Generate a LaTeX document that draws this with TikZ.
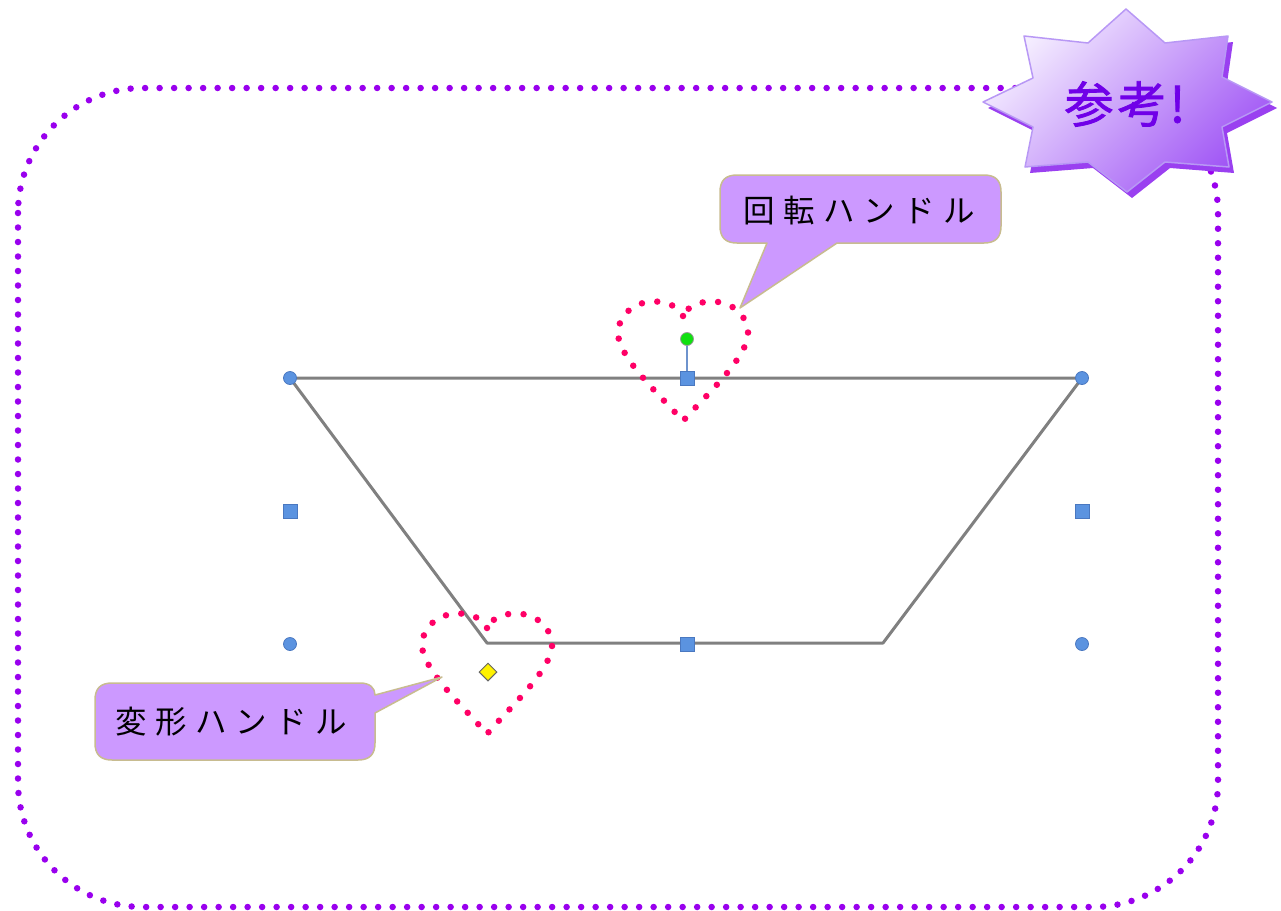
\documentclass[tikz,border=0pt]{standalone}
\usepackage{fontspec}
\newfontfamily\cjk{Noto Sans CJK JP}
\newfontfamily\cjkbold[FakeBold=1.6]{Noto Sans CJK JP}
\usetikzlibrary{shapes.geometric}
\definecolor{framepurple}{HTML}{9900EE}
\definecolor{heartpink}{HTML}{FF0066}
\definecolor{callfill}{HTML}{CC99FF}
\definecolor{calldraw}{HTML}{C8BC90}
\definecolor{handleblue}{HTML}{5B93E0}
\definecolor{handleblueb}{HTML}{4A78C0}
\definecolor{trapgray}{HTML}{808080}
\definecolor{starlight}{HTML}{F6F0FF}
\definecolor{stardark}{HTML}{A055F5}
\definecolor{starshadow}{HTML}{9A40F0}
\definecolor{starline}{HTML}{B898F5}
\definecolor{startext}{HTML}{7000E8}
\definecolor{greenhandle}{HTML}{10E010}
\newcommand{\gapx}{\hspace{8.5pt}}
\tikzset{
  framedots/.style={draw=framepurple, line width=6.5pt, line cap=round, dash pattern=on 0pt off 14.5pt},
  heartdots/.style={draw=heartpink, line width=6.5pt, line cap=round, dash pattern=on 0pt off 15.5pt},
  callout/.style={fill=callfill, draw=calldraw, line width=1.5pt, line join=round},
  calltext/.style={font=\cjk\fontsize{31.5}{34}\selectfont, text=black, inner sep=0pt},
  hcirc/.style={circle, fill=handleblue, draw=handleblueb, line width=0.8pt, minimum size=13pt, inner sep=0pt},
  hsq/.style={rectangle, fill=handleblue, draw=handleblueb, line width=0.8pt, minimum size=14pt, inner sep=0pt},
  hgreen/.style={circle, fill=greenhandle, draw=black!40, line width=0.8pt, minimum size=13pt, inner sep=0pt},
  hdiam/.style={diamond, fill=yellow, draw=black!60, line width=1pt, minimum size=18pt, inner sep=0pt},
  trap/.style={draw=trapgray, line width=3pt, line join=round},
}
\begin{document}
\begin{tikzpicture}[x=1pt,y=-1pt]
\useasboundingbox (0,0) rectangle (1281,910);
% dotted frame
\draw[framedots, rounded corners=125pt] (18,88) rectangle (1218,907);

% starburst shadow and star
\def\starpath{(1126,9) -- (1165,43) -- (1228,36) -- (1222,77) -- (1272,102) -- (1222,127) -- (1229,167) -- (1165,162) -- (1127,192) -- (1088,162) -- (1025,167) -- (1033,127) -- (983,102) -- (1033,78) -- (1024,36) -- (1088,43) -- cycle}
\fill[starshadow, shift={(5pt,-6pt)}] \starpath;
\shade[top color=starlight, bottom color=stardark, shading angle=45] \starpath;
\draw[starline, line width=1.5pt, line join=round] \starpath;
\node[font=\cjkbold\fontsize{49}{52}\selectfont, text=startext, inner sep=0pt] (star) at (1125,104) {参\hspace{4pt}考\hspace{3pt}!};

% trapezoid
\coordinate (tl) at (290,378);
\coordinate (tr) at (1082,378);
\coordinate (br) at (883,643);
\coordinate (bl) at (487,643);
\draw[trap] (tl) -- (tr) -- (br) -- (bl) -- cycle;

% handles
\node[hcirc] (h1) at (290,378) {};
\node[hcirc] (h2) at (1082,378) {};
\node[hcirc] (h3) at (290,644) {};
\node[hcirc] (h4) at (1082,644) {};
\node[hsq] (s1) at (687,378) {};
\node[hsq] (s2) at (290,511) {};
\node[hsq] (s3) at (1082,511) {};
\node[hsq] (s4) at (687,644) {};
\node[hgreen] (rot) at (687,339) {};
\draw[draw=handleblueb!80, line width=1.8pt] (rot) -- (s1);
\node[hdiam] (adj) at (488,672) {};

% hearts
\draw[heartdots] (683,316) .. controls (675,296) and (625,293) .. (618,330) .. controls (615,355) and (660,395) .. (683,421) .. controls (706,395) and (751,355) .. (748,330) .. controls (741,293) and (691,296) .. (683,316);
\draw[heartdots] (487,628) .. controls (479,608) and (429,605) .. (422,642) .. controls (419,667) and (464,707) .. (487,734) .. controls (510,707) and (555,667) .. (552,642) .. controls (545,605) and (495,608) .. (487,628);

% callout 1
\draw[callout] (737,175) -- (984,175) .. controls (996,175) and (1001,181) .. (1001,192) -- (1001,226) .. controls (1001,237) and (996,243) .. (984,243) -- (837,243) -- (740,308) -- (767,243) -- (737,243) .. controls (725,243) and (720,237) .. (720,226) -- (720,192) .. controls (720,181) and (725,175) .. (737,175) -- cycle;
\node[calltext] (t1) at (859,211) {回\gapx 転\gapx ハ\gapx ン\gapx ド\gapx ル};

% callout 2
\draw[callout] (112,683) -- (360,683) .. controls (370,683) and (375,688) .. (375,695) -- (442,677) -- (375,713) -- (375,743) .. controls (375,754) and (370,760) .. (358,760) -- (112,760) .. controls (100,760) and (95,754) .. (95,743) -- (95,700) .. controls (95,689) and (100,683) .. (112,683) -- cycle;
\node[calltext] (t2) at (231,722) {変\gapx 形\gapx ハ\gapx ン\gapx ド\gapx ル};
\end{tikzpicture}
\end{document}
